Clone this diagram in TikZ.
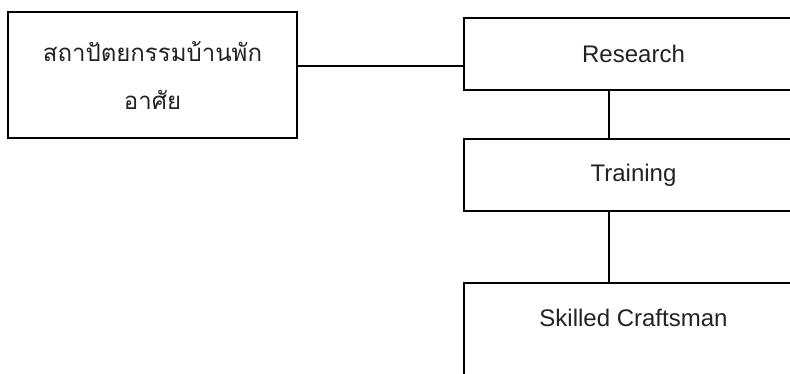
\documentclass[tikz,border=0pt]{standalone}
\usepackage{fontspec}
\setmainfont{Liberation Sans}
\newfontfamily\thaifont[Script=Thai]{Loma}
\usetikzlibrary{positioning,calc}
\definecolor{inkgrey}{HTML}{222222}
\tikzset{
  box/.style        = {draw=black, line width=1.6pt, minimum width=339pt, minimum height=72pt,
                       inner sep=2pt, align=center, text=inkgrey},
  link/.style       = {draw=black, line width=1.6pt},
  every node/.style = {font=\fontsize{24}{48}\selectfont},
}
\begin{document}
\begin{tikzpicture}[x=1pt,y=-1pt]
  \useasboundingbox (0,0) rectangle (790,374);
  \clip (0,0) rectangle (790,374);
  % the subject box on the left
  \node[box, minimum width=289pt, minimum height=126pt] (thai) at (152.5,75)
    {\thaifont สถาปัตยกรรมบ้านพัก\\\thaifont อาศัย};
  % the column on the right (runs past the page edge)
  \node[box] (research) at (633.5,54) {Research};
  \node[box] (training) at (633.5,175) {Training};
  \node[box, minimum height=118pt, text height=17pt, text depth=48pt] (skilled) at (633.5,342)
    {Skilled Craftsman};
  % connectors
  \coordinate (tie) at ([yshift=9pt]thai.east);
  \draw[link] (tie) -- (tie -| research.west);
  \coordinate (stem) at ([xshift=-24.5pt]research.south);
  \draw[link] (stem) -- (stem |- training.north);
  \draw[link] (stem |- training.south) -- (stem |- skilled.north);
\end{tikzpicture}
\end{document}
